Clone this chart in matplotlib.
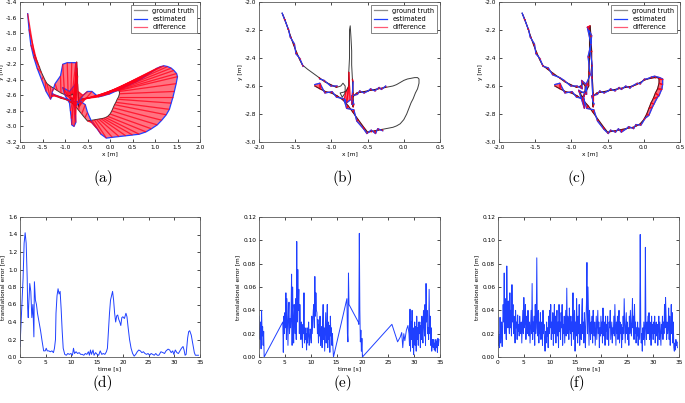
import numpy as np
import matplotlib
matplotlib.use("Agg")
import matplotlib.pyplot as plt
from matplotlib.collections import LineCollection, PolyCollection
from matplotlib.lines import Line2D

# ---------------- trajectory data (x [m], y [m]) ----------------
gt_xy = [
    # segment 1
    (-1.68, -2.08), (-1.64, -2.13), (-1.60, -2.19), (-1.56, -2.25), (-1.52, -2.31), (-1.48, -2.36), (-1.44, -2.41), (-1.40, -2.45),
    # segment 2
    (-1.33, -2.48), (-1.25, -2.51), (-1.17, -2.54), (-1.09, -2.57), (-1.01, -2.59), (-0.93, -2.61),
    # loop
    (-0.87, -2.60), (-0.84, -2.58), (-0.81, -2.60), (-0.81, -2.65), (-0.85, -2.68), (-0.88, -2.65),
    # spike
    (-0.80, -2.64), (-0.76, -2.60), (-0.76, -2.50), (-0.75, -2.40), (-0.75, -2.30), (-0.75, -2.20), (-0.74, -2.17),
    (-0.73, -2.25), (-0.72, -2.35), (-0.72, -2.45), (-0.71, -2.55), (-0.70, -2.65), (-0.70, -2.75), (-0.71, -2.68),
    # right lobe top
    (-0.65, -2.65), (-0.60, -2.645), (-0.55, -2.64), (-0.50, -2.635), (-0.45, -2.63), (-0.40, -2.625), (-0.35, -2.62),
    (-0.30, -2.615), (-0.25, -2.61), (-0.20, -2.605), (-0.15, -2.60), (-0.10, -2.59), (-0.05, -2.575), (0.00, -2.56),
    (0.05, -2.55), (0.10, -2.545), (0.15, -2.54), (0.19, -2.54), (0.21, -2.55),
    # right lobe descending / bottom
    (0.21, -2.58), (0.19, -2.62), (0.16, -2.65), (0.13, -2.69), (0.10, -2.72), (0.07, -2.76), (0.04, -2.80), (0.00, -2.84),
    (-0.05, -2.87), (-0.10, -2.885), (-0.15, -2.895), (-0.20, -2.90), (-0.25, -2.905), (-0.30, -2.91), (-0.35, -2.915),
    (-0.40, -2.92), (-0.45, -2.925), (-0.50, -2.93),
    # back up-left
    (-0.56, -2.89), (-0.63, -2.84), (-0.70, -2.79), (-0.77, -2.74), (-0.84, -2.70), (-0.92, -2.67), (-1.00, -2.65),
    (-1.08, -2.64), (-1.16, -2.62), (-1.23, -2.60),
]

est_a_xy = [
    (-1.83, -1.55), (-1.80, -1.75), (-1.76, -1.95), (-1.70, -2.10), (-1.62, -2.25), (-1.52, -2.40), (-1.42, -2.55), (-1.32, -2.65),
    (-1.30, -2.62), (-1.28, -2.55), (-1.22, -2.45), (-1.10, -2.35), (-1.05, -2.20), (-0.95, -2.18),
    (-0.85, -2.18), (-0.76, -2.18), (-0.75, -2.30), (-0.76, -2.45), (-0.90, -2.55), (-1.05, -2.50),
    (-1.00, -2.60), (-0.90, -2.70), (-0.88, -2.80), (-0.86, -2.90), (-0.85, -2.98), (-0.80, -3.00), (-0.76, -2.95),
    (-0.77, -2.85), (-0.78, -2.75), (-0.70, -2.70), (-0.60, -2.60), (-0.50, -2.55), (-0.40, -2.55), (-0.30, -2.60),
    (-0.25, -2.62), (-0.12, -2.60), (0.00, -2.58), (0.15, -2.54), (0.30, -2.50), (0.45, -2.46), (0.60, -2.42),
    (0.72, -2.38), (0.85, -2.33), (0.95, -2.29), (1.05, -2.25), (1.13, -2.23), (1.20, -2.22), (1.28, -2.23),
    (1.36, -2.25), (1.42, -2.28), (1.48, -2.32), (1.50, -2.36), (1.47, -2.45),
    (1.43, -2.55), (1.40, -2.62), (1.36, -2.70), (1.32, -2.78), (1.25, -2.85), (1.15, -2.92), (1.05, -2.98), (0.92, -3.03),
    (0.80, -3.07), (0.65, -3.10), (0.50, -3.11), (0.35, -3.12), (0.20, -3.13), (0.05, -3.14), (-0.08, -3.15),
    (-0.20, -3.10), (-0.30, -3.02), (-0.40, -2.95),
    (-0.50, -2.82), (-0.55, -2.72), (-0.65, -2.68), (-0.80, -2.68), (-0.95, -2.65), (-1.10, -2.62), (-1.20, -2.60),
    (-1.28, -2.58), (-1.30, -2.60), (-1.30, -2.62),
]

# deviations of the estimate from ground truth in (b); None = no estimate
off_b = [
    (0.00, 0.00), (-0.01, 0.01), (0.01, -0.01), (-0.01, 0.00), (0.01, 0.01), (-0.01, -0.01), (0.00, 0.01), (0.01, -0.01),
    None, None, (0.01, -0.01), (-0.01, 0.01), (0.00, -0.01), (0.01, 0.01),
    None, None, None, None, None, None,
    (-0.02, -0.05), (-0.03, -0.12), (0.02, -0.20), None, None, None, None,
    None, None, None, (0.01, -0.02), (-0.02, -0.08), (0.01, 0.02), (-0.01, 0.01),
    (0.01, -0.01), (-0.01, 0.01), (0.00, -0.01), (0.01, 0.00), (-0.01, 0.01), (0.00, -0.01), (0.01, 0.01),
    (-0.01, -0.01), (0.00, 0.01), None, None, None, None, None,
    None, None, None, None, None,
    None, None, None, None, None, None, None, None,
    None, None, None, None, None, (0.01, -0.01), (-0.01, 0.01),
    (0.01, -0.02), (0.00, 0.01), (-0.01, -0.01),
    (0.01, -0.02), (-0.02, -0.01), (0.01, 0.02), (-0.02, -0.02), (0.01, 0.01), (-0.01, -0.01), (0.01, 0.01),
    (-0.01, -0.01), (0.00, 0.04), (0.00, 0.01),
]

# deviations of the estimate from ground truth in (c)
off_c = [
    (0.00, 0.00), (-0.01, 0.01), (0.01, -0.01), (-0.01, 0.00), (0.01, 0.01), (-0.01, -0.01), (0.00, 0.01), (0.01, -0.01),
    (0.01, 0.01), (-0.01, -0.01), (0.01, 0.00), (-0.01, 0.01), (0.00, -0.01), (0.01, 0.01),
    (0.02, -0.02), (-0.02, 0.02), (0.02, 0.01), (-0.02, -0.03), (0.03, -0.08), (-0.02, 0.02),
    (0.01, -0.02), (-0.03, 0.02), (0.02, -0.02), (-0.02, 0.01), (0.02, 0.00), (-0.03, 0.02), (-0.04, -0.01),
    (0.01, 0.01), (-0.02, 0.00), (0.01, -0.01), (-0.01, 0.02), (0.00, -0.06), (0.01, 0.02), (-0.01, 0.01),
    (0.01, -0.01), (-0.01, 0.01), (0.00, -0.01), (0.01, 0.00), (-0.01, 0.01), (0.00, -0.01), (0.01, 0.01),
    (-0.01, -0.01), (0.00, 0.01), (0.01, -0.01), (-0.01, 0.00), (0.01, 0.01), (0.00, -0.01), (0.01, 0.01),
    (-0.01, 0.00), (0.01, 0.01), (0.00, 0.01), (0.03, 0.00), (0.05, 0.00),
    (0.05, -0.01), (0.06, 0.00), (0.05, -0.02), (0.06, 0.01), (0.04, -0.01), (0.05, 0.01), (0.03, -0.01), (0.02, 0.01),
    (0.01, -0.01), (-0.01, 0.01), (0.01, -0.01), (-0.01, 0.01), (0.01, 0.00), (-0.01, -0.02), (0.00, 0.01),
    (0.01, -0.01), (-0.01, 0.01), (0.01, -0.01),
    (0.01, -0.02), (-0.01, -0.01), (0.01, 0.02), (-0.02, -0.02), (0.01, 0.01), (-0.01, -0.01), (0.01, 0.01),
    (-0.01, -0.01), (0.00, 0.04), (0.00, 0.01),
]

# ---------------- translational error data ----------------
d_t = [0.0, 0.3, 0.6, 0.8, 1.0, 1.2, 1.4, 1.5, 1.6, 1.7, 1.9, 2.1, 2.3, 2.5, 2.6, 2.7, 2.8, 3.0, 3.2, 3.4,
       3.7, 4.0, 4.3, 4.6, 4.9, 5.1, 5.3, 5.6, 5.9, 6.2, 6.5, 6.7, 6.9, 7.0, 7.2, 7.4, 7.6, 7.8, 8.0, 8.2,
       8.4, 8.7, 9.0, 9.3, 9.6, 9.9, 10.2, 10.4, 10.6, 10.9, 11.2, 11.5, 11.8, 12.1, 12.4, 12.7, 13.0, 13.3, 13.5, 13.7,
       13.9, 14.2, 14.4, 14.7, 15.0, 15.3, 15.6, 15.9, 16.2, 16.5, 16.8, 17.0, 17.2, 17.4, 17.6, 17.8, 18.0, 18.2, 18.4, 18.6,
       18.8, 19.0, 19.2, 19.4, 19.6, 19.8, 20.0, 20.3, 20.6, 20.8, 21.0, 21.3, 21.6, 21.9, 22.2, 22.5, 22.8, 23.1, 23.4, 23.7,
       24.0, 24.3, 24.6, 24.9, 25.2, 25.5, 25.8, 26.1, 26.4, 26.7, 27.0, 27.4, 27.8, 28.1, 28.4, 28.8, 29.1, 29.4, 29.7, 29.9,
       30.2, 30.5, 30.8, 31.1, 31.4, 31.7, 31.9, 32.1, 32.3, 32.6, 32.8, 33.0, 33.3, 33.6, 33.9, 34.1, 34.4, 34.7]
d_err = [0.12, 0.50, 0.90, 1.30, 1.42, 1.30, 0.90, 0.55, 0.45, 0.60, 0.84, 0.75, 0.45, 0.60, 0.40, 0.23, 0.86, 0.65, 0.60, 0.50,
         0.40, 0.30, 0.18, 0.07, 0.07, 0.10, 0.07, 0.07, 0.06, 0.07, 0.05, 0.10, 0.20, 0.50, 0.70, 0.78, 0.72, 0.75, 0.55, 0.30,
         0.10, 0.03, 0.02, 0.04, 0.03, 0.04, 0.02, 0.10, 0.04, 0.06, 0.04, 0.05, 0.03, 0.03, 0.02, 0.04, 0.03, 0.06, 0.02, 0.08,
         0.03, 0.08, 0.02, 0.05, 0.03, 0.02, 0.07, 0.03, 0.04, 0.03, 0.06, 0.10, 0.30, 0.50, 0.65, 0.70, 0.75, 0.65, 0.50, 0.40,
         0.47, 0.48, 0.43, 0.40, 0.36, 0.45, 0.46, 0.44, 0.50, 0.46, 0.35, 0.20, 0.10, 0.04, 0.01, 0.03, 0.06, 0.08, 0.07, 0.05,
         0.06, 0.04, 0.03, 0.04, 0.02, 0.04, 0.03, 0.02, 0.04, 0.02, 0.02, 0.06, 0.05, 0.04, 0.07, 0.09, 0.08, 0.05, 0.07, 0.03,
         0.08, 0.05, 0.04, 0.07, 0.10, 0.12, 0.08, 0.02, 0.03, 0.22, 0.29, 0.30, 0.25, 0.15, 0.05, 0.02, 0.02, 0.02]

e_t = [0.0, 0.1, 0.2, 0.3, 0.4, 0.5, 0.6, 0.7, 0.8, 0.9, 1.0,
       4.6, 4.7, 4.8, 4.9, 5.0, 5.1, 5.2, 5.3, 5.4, 5.5, 5.6, 5.7, 5.8, 5.9, 6.0,
       6.1, 6.2, 6.3, 6.4, 6.5, 6.6, 6.7, 6.8, 6.9, 7.0, 7.1, 7.2, 7.3, 7.4, 7.5, 7.6, 7.7, 7.8, 7.9, 8.0,
       8.1, 8.2, 8.3, 8.4, 8.5, 8.6, 8.7, 8.8, 8.9, 9.0, 9.1, 9.2, 9.3, 9.4, 9.5, 9.6, 9.7, 9.8, 9.9, 10.0,
       10.1, 10.2, 10.3, 10.4, 10.5, 10.6, 10.7, 10.8, 10.9, 11.0, 11.1, 11.2, 11.3, 11.4, 11.5, 11.6, 11.7, 11.8, 11.9, 12.0,
       12.1, 12.2, 12.3, 12.4, 12.5, 12.6, 12.7, 12.8, 12.9, 13.0, 13.1, 13.2, 13.3, 13.4, 13.5, 13.6, 13.7, 13.8, 13.9, 14.0,
       14.1, 14.2, 14.3, 14.4,
       17.0, 17.1, 17.2, 17.3, 17.4, 19.2, 19.3, 19.4, 19.5, 19.6, 19.7, 19.8, 19.9, 20.0,
       25.7, 26.8, 27.3, 27.6, 27.8, 28.0, 28.2, 28.5, 28.8,
       29.0, 29.1, 29.2, 29.3, 29.4, 29.5, 29.6, 29.7, 29.8, 29.9,
       30.0, 30.1, 30.2, 30.3, 30.4, 30.5, 30.6, 30.7, 30.8, 30.9,
       31.0, 31.1, 31.2, 31.3, 31.4, 31.5, 31.6, 31.7, 31.8, 31.9,
       32.0, 32.1, 32.2, 32.3, 32.4, 32.5, 32.6, 32.7, 32.8, 32.9,
       33.0, 33.1, 33.2, 33.3, 33.4, 33.5, 33.6, 33.7, 33.8, 33.9,
       34.0, 34.1, 34.2, 34.3, 34.4, 34.5, 34.6, 34.7, 34.8]
e_err = [0.035, 0.020, 0.015, 0.030, 0.007, 0.040, 0.018, 0.026, 0.010, 0.022, 0.000,
         0.030, 0.004, 0.035, 0.020, 0.038, 0.025, 0.055, 0.015, 0.050, 0.030, 0.010, 0.036, 0.047, 0.020, 0.033,
         0.025, 0.038, 0.071, 0.010, 0.060, 0.030, 0.012, 0.045, 0.038, 0.020, 0.050, 0.015, 0.099, 0.030, 0.075, 0.040, 0.058, 0.020, 0.045, 0.028,
         0.015, 0.030, 0.022, 0.008, 0.028, 0.020, 0.055, 0.012, 0.025, 0.015, 0.020, 0.006, 0.025, 0.012, 0.020, 0.030, 0.010, 0.015, 0.024, 0.020,
         0.012, 0.035, 0.020, 0.030, 0.040, 0.045, 0.025, 0.069, 0.035, 0.055, 0.040, 0.038, 0.020, 0.032, 0.012, 0.028, 0.018, 0.035, 0.010, 0.022,
         0.026, 0.008, 0.030, 0.045, 0.015, 0.025, 0.005, 0.020, 0.038, 0.012, 0.022, 0.045, 0.008, 0.030, 0.015, 0.027, 0.004, 0.035, 0.018, 0.025,
         0.010, 0.020, 0.008, 0.000,
         0.050, 0.020, 0.013, 0.072, 0.045, 0.030, 0.028, 0.106, 0.040, 0.013, 0.023, 0.005, 0.016, 0.000,
         0.028, 0.013, 0.017, 0.021, 0.008, 0.020, 0.014, 0.023, 0.027,
         0.020, 0.010, 0.041, 0.005, 0.030, 0.015, 0.040, 0.008, 0.025, 0.002,
         0.018, 0.030, 0.010, 0.026, 0.005, 0.035, 0.015, 0.025, 0.010, 0.030,
         0.020, 0.030, 0.008, 0.027, 0.015, 0.035, 0.022, 0.012, 0.040, 0.030,
         0.018, 0.045, 0.010, 0.063, 0.030, 0.040, 0.020, 0.025, 0.015, 0.058,
         0.020, 0.035, 0.010, 0.025, 0.005, 0.015, 0.012, 0.008, 0.015, 0.006,
         0.012, 0.005, 0.015, 0.008, 0.013, 0.004, 0.016, 0.010, 0.015]

f_err = [
    0.022, 0.010, 0.018, 0.008, 0.034, 0.012, 0.020, 0.030, 0.009, 0.025,
    0.045, 0.030, 0.072, 0.020, 0.050, 0.035, 0.015, 0.078, 0.040, 0.025,
    0.048, 0.030, 0.020, 0.055, 0.025, 0.040, 0.018, 0.062, 0.030, 0.045,
    0.020, 0.035, 0.028, 0.012, 0.040, 0.025, 0.030, 0.015, 0.036, 0.022,
    0.028, 0.018, 0.035, 0.025, 0.020, 0.030, 0.012, 0.026, 0.040, 0.020,
    0.051, 0.025, 0.030, 0.045, 0.015, 0.028, 0.035, 0.020, 0.040, 0.025,
    0.018, 0.030, 0.012, 0.025, 0.040, 0.020, 0.063, 0.015, 0.030, 0.022,
    0.035, 0.010, 0.045, 0.020, 0.030, 0.085, 0.025, 0.018, 0.040, 0.012,
    0.030, 0.020, 0.038, 0.015, 0.025, 0.030, 0.010, 0.040, 0.020, 0.028,
    0.015, 0.005, 0.022, 0.012, 0.030, 0.018, 0.025, 0.008, 0.035, 0.020,
    0.040, 0.025, 0.045, 0.015, 0.030, 0.020, 0.038, 0.010, 0.025, 0.045,
    0.020, 0.035, 0.012, 0.028, 0.040, 0.018, 0.030, 0.008, 0.045, 0.022,
    0.030, 0.015, 0.038, 0.025, 0.045, 0.010, 0.028, 0.020, 0.035, 0.012,
    0.025, 0.040, 0.018, 0.059, 0.020, 0.035, 0.030, 0.015, 0.042, 0.025,
    0.020, 0.035, 0.010, 0.030, 0.022, 0.055, 0.015, 0.028, 0.040, 0.005,
    0.030, 0.018, 0.050, 0.025, 0.012, 0.035, 0.020, 0.045, 0.010, 0.028,
    0.025, 0.015, 0.040, 0.050, 0.020, 0.030, 0.012, 0.038, 0.025, 0.008,
    0.030, 0.045, 0.081, 0.020, 0.060, 0.035, 0.010, 0.040, 0.025, 0.015,
    0.030, 0.020, 0.035, 0.012, 0.040, 0.025, 0.018, 0.030, 0.010, 0.022,
    0.035, 0.015, 0.028, 0.040, 0.020, 0.030, 0.008, 0.025, 0.018, 0.035,
    0.020, 0.030, 0.012, 0.042, 0.025, 0.018, 0.030, 0.010, 0.035, 0.022,
    0.028, 0.015, 0.035, 0.020, 0.010, 0.030, 0.025, 0.040, 0.015, 0.022,
    0.030, 0.012, 0.025, 0.020, 0.035, 0.018, 0.045, 0.028, 0.010, 0.030,
    0.020, 0.035, 0.015, 0.025, 0.040, 0.012, 0.030, 0.020, 0.028, 0.008,
    0.025, 0.015, 0.035, 0.020, 0.050, 0.030, 0.012, 0.025, 0.038, 0.020,
    0.030, 0.015, 0.025, 0.010, 0.035, 0.020, 0.040, 0.028, 0.018, 0.030,
    0.050, 0.025, 0.035, 0.015, 0.045, 0.020, 0.030, 0.012, 0.025, 0.018,
    0.030, 0.010, 0.025, 0.020, 0.015, 0.105, 0.030, 0.012, 0.020, 0.005,
    0.025, 0.015, 0.030, 0.020, 0.010, 0.094, 0.025, 0.015, 0.030, 0.020,
    0.035, 0.020, 0.038, 0.015, 0.030, 0.025, 0.010, 0.035, 0.020, 0.028,
    0.015, 0.030, 0.020, 0.035, 0.012, 0.025, 0.030, 0.018, 0.028, 0.010,
    0.025, 0.035, 0.015, 0.030, 0.020, 0.010, 0.028, 0.020, 0.035, 0.015,
    0.030, 0.020, 0.045, 0.025, 0.051, 0.035, 0.015, 0.030, 0.020, 0.025,
    0.042, 0.015, 0.035, 0.010, 0.025, 0.045, 0.020, 0.038, 0.012, 0.030,
    0.008, 0.005, 0.012, 0.006, 0.015, 0.010, 0.013, 0.008,
]
f_t = [i * 0.1 for i in range(len(f_err))]

panel_labels = ["(a)", "(b)", "(c)", "(d)", "(e)", "(f)"]

# ---------------- styling ----------------
W, H = 685, 403
fig = plt.figure(figsize=(W / 100, H / 100), dpi=100)
TICK_FS = 4.2
LAB_FS = 4.2
BLUE = (0.12, 0.25, 1.0)
RED = (1.0, 0.0, 0.1)
GT = (0.1, 0.1, 0.1)


def px_axes(l, t, r, b):
    return fig.add_axes([l / W, 1 - b / H, (r - l) / W, (b - t) / H])


def style(ax):
    ax.tick_params(direction="in", length=2.5, width=0.5, labelsize=TICK_FS, pad=2,
                   top=True, right=True, colors="black")
    for s in ax.spines.values():
        s.set_linewidth(0.6)
        s.set_color("0.35")


def traj(ax, est_xy, xlim, ylim, xticks, yticks, fill_alpha, edge_lw):
    gx = np.array([p[0] for p in gt_xy])
    gy = np.array([p[1] for p in gt_xy])
    n = min(len(gt_xy), len(est_xy))
    ex = np.array([np.nan if p is None else p[0] for p in est_xy[:n]], dtype=float)
    ey = np.array([np.nan if p is None else p[1] for p in est_xy[:n]], dtype=float)
    ax.plot(gx, gy, color=GT, lw=0.7, alpha=0.85)
    ax.plot(ex, ey, color=BLUE, lw=0.9)
    # difference: sweep between consecutive gt/estimate pairs plus the connecting lines
    quads = [[(gx[i], gy[i]), (gx[i + 1], gy[i + 1]), (ex[i + 1], ey[i + 1]), (ex[i], ey[i])]
             for i in range(n - 1) if not (np.isnan(ex[i]) or np.isnan(ex[i + 1]))]
    if edge_lw > 0:
        pc = PolyCollection(quads, facecolors=[(1.0, 0.0, 0.1, fill_alpha)],
                            edgecolors=[(1.0, 0.0, 0.1, 0.7)], linewidths=edge_lw)
    else:
        pc = PolyCollection(quads, facecolors=[(1.0, 0.0, 0.1, fill_alpha)], edgecolors="none")
    ax.add_collection(pc)
    segs = [[(gx[i], gy[i]), (ex[i], ey[i])] for i in range(n) if not np.isnan(ex[i])]
    ax.add_collection(LineCollection(segs, colors=[RED], linewidths=0.9, alpha=0.8))
    ax.set_xlim(*xlim)
    ax.set_ylim(*ylim)
    ax.set_xticks(xticks)
    ax.set_yticks(yticks)
    ax.xaxis.set_major_formatter(matplotlib.ticker.FormatStrFormatter("%.1f"))
    ax.yaxis.set_major_formatter(matplotlib.ticker.FormatStrFormatter("%.1f"))
    ax.set_xlabel("x [m]", fontsize=LAB_FS, labelpad=1)
    ax.set_ylabel("y [m]", fontsize=LAB_FS, labelpad=1)
    handles = [Line2D([], [], color="0.55", lw=0.9), Line2D([], [], color=BLUE, lw=0.9),
               Line2D([], [], color=(1.0, 0.35, 0.45), lw=0.9)]
    leg = ax.legend(handles, ["ground truth", "estimated", "difference"], loc="upper right",
                    fontsize=4.8, handlelength=2.0, borderpad=0.45, labelspacing=0.35,
                    frameon=True, fancybox=False, borderaxespad=0.4)
    leg.get_frame().set_linewidth(0.6)
    leg.get_frame().set_edgecolor("0.3")
    style(ax)


def offset_est(offs):
    out = []
    for p, o in zip(gt_xy, offs):
        out.append(None if o is None else (p[0] + o[0], p[1] + o[1]))
    return out


ax_a = px_axes(20, 2, 200, 142)
traj(ax_a, est_a_xy, (-2.0, 2.0), (-3.2, -1.4), np.arange(-2.0, 2.01, 0.5), np.arange(-3.2, -1.39, 0.2), 0.55, 0)
ax_b = px_axes(259, 2, 440, 142)
traj(ax_b, offset_est(off_b), (-2.0, 0.5), (-3.0, -2.0), np.arange(-2.0, 0.51, 0.5), np.arange(-3.0, -1.99, 0.2), 0.6, 0.8)
ax_c = px_axes(499, 2, 680, 142)
traj(ax_c, offset_est(off_c), (-2.0, 0.5), (-3.0, -2.0), np.arange(-2.0, 0.51, 0.5), np.arange(-3.0, -1.99, 0.2), 0.6, 0.8)


def err(ax, t, v, ylim, yticks, fmt):
    ax.plot(t, v, color=BLUE, lw=0.7)
    ax.set_xlim(0, 35)
    ax.set_ylim(*ylim)
    ax.set_xticks(np.arange(0, 36, 5))
    ax.set_yticks(yticks)
    ax.yaxis.set_major_formatter(matplotlib.ticker.FormatStrFormatter(fmt))
    ax.set_xlabel("time [s]", fontsize=LAB_FS, labelpad=1)
    ax.set_ylabel("translational error [m]", fontsize=LAB_FS, labelpad=2)
    style(ax)


ax_d = px_axes(20, 217, 200, 357)
err(ax_d, d_t, d_err, (0, 1.6), np.arange(0, 1.61, 0.2), "%.1f")
ax_e = px_axes(259, 217, 440, 357)
err(ax_e, e_t, e_err, (0, 0.12), np.arange(0, 0.121, 0.02), "%.2f")
ax_f = px_axes(498, 217, 679, 357)
err(ax_f, f_t, f_err, (0, 0.12), np.arange(0, 0.121, 0.02), "%.2f")

label_pos = [(103, 178), (343, 178), (577, 178), (103, 383), (343, 383), (577, 383)]
for lab, (x, y) in zip(panel_labels, label_pos):
    fig.text(x / W, 1 - y / H, lab, ha="center", va="center", fontsize=11,
             family=["cmr10", "DejaVu Serif"])

fig.savefig("out.png", dpi=100)
